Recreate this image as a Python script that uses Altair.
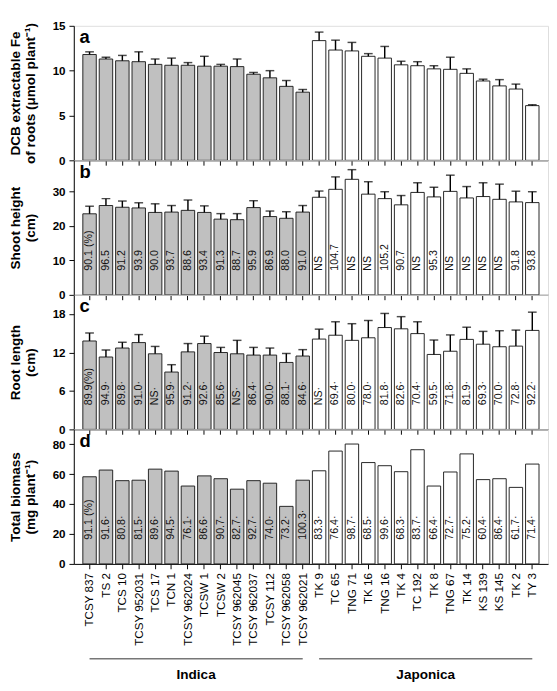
import altair as alt
import pandas as pd

cultivars = ["TCSY 837", "TS 2", "TCS 10", "TCSY 952031", "TCS 17", "TCN 1", "TCSY 962024",
             "TCSW 1", "TCSW 2", "TCSY 962045", "TCSY 962037", "TCSY 112", "TCSY 962058", "TCSY 962021",
             "TK 9", "TC 65", "TNG 71", "TK 16", "TNG 16", "TK 4", "TC 192",
             "TK 8", "TNG 67", "TK 14", "KS 139", "KS 145", "TK 2", "TY 3"]
group_names = ["Indica", "Japonica"]
groups = ["Indica"] * 14 + ["Japonica"] * 14

fe_mean = [11.8, 11.3, 11.1, 11.0, 10.7, 10.6, 10.6, 10.5, 10.5, 10.45, 9.6, 9.2, 8.25, 7.6,
           13.35, 12.3, 12.2, 11.6, 11.4, 10.65, 10.55, 10.2, 10.15, 9.7, 8.85, 8.3, 7.95, 6.1]
fe_err = [0.3, 0.2, 0.6, 1.1, 0.6, 0.8, 0.3, 1.1, 0.2, 0.85, 0.2, 0.8, 0.65, 0.3,
          0.95, 1.1, 0.95, 0.3, 1.3, 0.4, 0.45, 0.35, 1.35, 0.5, 0.2, 0.7, 0.55, 0.1]

height_mean = [23.5, 25.9, 25.4, 25.2, 23.9, 24.0, 24.5, 23.9, 21.95, 21.8, 25.3, 22.7, 22.2, 24.0,
               28.3, 30.6, 33.5, 29.2, 27.9, 26.1, 29.7, 28.4, 30.0, 28.1, 28.5, 27.7, 26.95, 26.75]
height_err = [2.2, 2.0, 1.8, 1.5, 2.5, 1.9, 3.0, 1.9, 1.6, 1.75, 2.0, 1.6, 1.9, 1.9,
              1.8, 3.6, 2.8, 3.6, 2.0, 2.7, 2.8, 2.8, 4.7, 3.3, 4.0, 4.4, 3.1, 3.15]
height_pct = ["90.1 (%)", "96.5", "91.2", "93.9", "90.0", "93.7", "88.6", "93.4", "91.3", "88.7",
              "95.9", "86.9", "88.0", "91.0",
              "NS", "104.7", "NS", "NS", "105.2", "90.7", "NS", "95.3", "NS", "NS", "NS", "NS",
              "91.8", "93.8"]

root_mean = [13.8, 11.3, 12.7, 13.55, 11.8, 8.95, 12.1, 13.4, 12.0, 11.8, 11.6, 11.6, 10.45, 11.45,
             14.1, 14.7, 13.9, 14.3, 15.9, 15.7, 14.95, 11.7, 12.2, 14.05, 13.3, 12.9, 13.0, 15.45]
root_err = [1.25, 1.1, 0.9, 1.25, 1.15, 1.15, 1.3, 1.15, 0.8, 2.1, 1.2, 1.1, 1.4, 1.0,
            1.55, 2.1, 2.6, 2.7, 2.2, 1.9, 1.85, 2.25, 2.55, 1.9, 2.0, 2.5, 2.5, 2.85]
root_pct = ["89.9(%)", "94.9·", "89.8·", "91.0·", "NS·", "95.9·", "91.2·", "92.6·", "85.6·", "NS·",
            "86.4·", "90.0·", "88.1·", "84.6·",
            "NS·", "69.4·", "80.0·", "78.0·", "81.8·", "82.6·", "70.4·", "59.5·", "71.8·", "81.9·",
            "69.3·", "70.0·", "72.8·", "92.2·"]

biomass_mean = [58.3, 62.8, 55.7, 56.0, 63.4, 62.1, 52.1, 58.9, 57.0, 50.0, 55.7, 54.0, 38.5, 56.0,
                62.3, 75.5, 80.2, 67.8, 65.7, 61.7, 76.4, 52.1, 61.5, 73.6, 56.4, 57.0, 51.2, 66.8]
biomass_pct = ["91.1 (%)", "91.6·", "80.8·", "81.5·", "89.6·", "94.5·", "76.1·", "86.6·", "90.7·",
               "82.7·", "92.7·", "74.0·", "73.2·", "100.3·",
               "83.3·", "76.4·", "98.7·", "68.5·", "99.6·", "68.3·", "83.7·", "66.4·", "72.7·",
               "75.2·", "60.4·", "86.4·", "61.7·", "71.4·"]

W, H = 490, 139
FONT = "Liberation Sans"

xscale = alt.Scale(domain=cultivars, paddingInner=0.18, paddingOuter=0.55)
fill_scale = alt.Scale(domain=group_names, range=["#c0c0c0", "#ffffff"])


def xenc(bottom):
    if bottom:
        ax = alt.Axis(title=None, labelAngle=-90, labelFontSize=12, labelColor="black",
                      tickColor="black", tickSize=5, labelPadding=4, domainColor="black",
                      labelFont=FONT)
    else:
        ax = alt.Axis(title=None, labels=False, tickColor="black", tickSize=5,
                      domainColor="black")
    return alt.X("cultivar:N", sort=cultivars, scale=xscale, axis=ax)


def yenc(field, domain, ticks, title):
    return alt.Y(
        f"{field}:Q",
        scale=alt.Scale(domain=domain, nice=False, zero=True),
        axis=alt.Axis(values=ticks, title=title, titleFontSize=14, titleFontWeight="bold",
                      titlePadding=15, titleLineHeight=16, titleColor="black",
                      labelFontSize=12, labelFontWeight="bold", labelPadding=4,
                      labelColor="black", tickSize=5, tickColor="black",
                      domainColor="black", grid=False, titleFont=FONT, labelFont=FONT),
    )


def panel(mean, err, labels, domain, ticks, title, letter, bottom):
    d = pd.DataFrame({"cultivar": cultivars, "group": groups, "mean": mean})
    if err is not None:
        d["top"] = d["mean"] + pd.Series(err)
    if labels is not None:
        d["label"] = labels
    base = alt.Chart(d)
    x = xenc(bottom)
    layers = [
        base.mark_bar(stroke="#222222", strokeWidth=1).encode(
            x=x, y=yenc("mean", domain, ticks, title),
            fill=alt.Fill("group:N", scale=fill_scale, legend=None))
    ]
    if err is not None:
        layers.append(base.mark_rule(color="black", strokeWidth=1.5).encode(
            x=x, y=yenc("mean", domain, ticks, title), y2="top:Q"))
        layers.append(base.mark_tick(color="black", size=9, thickness=1.5).encode(
            x=x, y=yenc("top", domain, ticks, title)))
    if labels is not None:
        layers.append(base.mark_text(angle=270, align="left", baseline="middle",
                                     fontSize=11, color="#111111", font=FONT).encode(
            x=x, y=alt.value(H - 25), text="label:N"))
    layers.append(alt.Chart(pd.DataFrame({"t": [letter]})).mark_text(
        align="left", baseline="alphabetic", fontSize=19, fontWeight="bold",
        color="black", font=FONT).encode(x=alt.value(6), y=alt.value(18), text="t:N"))
    if bottom:
        rows, mids = [], []
        for g in group_names:
            members = [c for c, gg in zip(cultivars, groups) if gg == g]
            rows += [{"cultivar": members[0], "group": g}, {"cultivar": members[-1], "group": g}]
            mids.append({"cultivar": members[len(members) // 2], "group": g})
        layers.append(alt.Chart(pd.DataFrame(rows)).mark_line(
            color="#777777", strokeWidth=1.5).encode(
            x=x, y=alt.value(H + 98), detail="group:N"))
        layers.append(alt.Chart(pd.DataFrame(mids)).mark_text(
            fontSize=14, fontWeight="bold", color="black", dx=-8.5, baseline="middle",
            font=FONT).encode(x=x, y=alt.value(H + 115), text="group:N"))
    return alt.layer(*layers).properties(width=W, height=H)


pa = panel(fe_mean, fe_err, None, [0, 15], [0, 5, 10, 15],
           ["DCB extractable Fe", "of roots (μmol plant⁻¹)"], "a", False)
pb = panel(height_mean, height_err, height_pct, [0, 39], [0, 10, 20, 30],
           ["Shoot height", "(cm)"], "b", False)
pc = panel(root_mean, root_err, root_pct, [0, 21], [0, 6, 12, 18],
           ["Root length", "(cm)"], "c", False)
pd_ = panel(biomass_mean, None, biomass_pct, [0, 90], [0, 20, 40, 60, 80],
            ["Total biomass", "(mg plant⁻¹)"], "d", True)

chart = alt.vconcat(pa, pb, pc, pd_, spacing=0, bounds="flush").properties(
    padding={"left": 0, "top": 0, "right": 0, "bottom": 0}
).configure_view(stroke="black", strokeWidth=1).configure(font=FONT)

chart.save("out.html", embed_options={"renderer": "svg", "actions": False})
